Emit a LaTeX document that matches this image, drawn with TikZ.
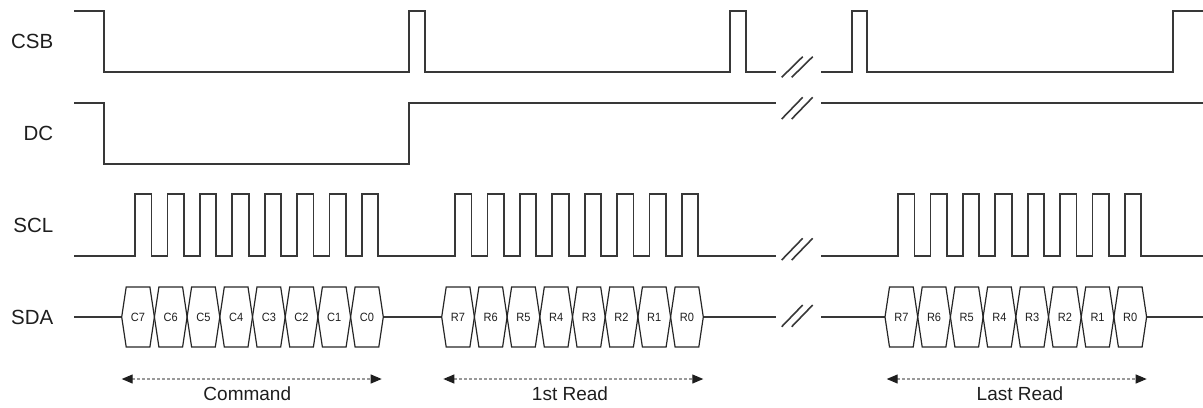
\documentclass[tikz,border=0pt]{standalone}
\usepackage{fontspec}
\setmainfont{Liberation Sans}
\usetikzlibrary{arrows.meta}
\definecolor{wavecol}{HTML}{383838}
\definecolor{textcol}{HTML}{1E1E1E}
\definecolor{dashcol}{HTML}{999999}
\begin{document}
\begin{tikzpicture}[x=1bp,y=-1bp,
  wave/.style={draw=wavecol, line width=1.8bp, line join=miter},
  cellbox/.style={draw=black!85, line width=1.2bp, line join=miter},
  brk/.style={draw=wavecol, line width=1.6bp},
  sig/.style={font=\fontsize{20.5bp}{24bp}\selectfont, text=textcol, inner sep=0pt, anchor=base east},
  spanlbl/.style={font=\fontsize{19bp}{22bp}\selectfont, text=textcol, inner sep=0pt, anchor=base},
  bitlbl/.style={font=\fontsize{12bp}{14bp}\selectfont, text=textcol, inner sep=0pt, xscale=0.92},
  spanarrow/.style={draw=dashcol, line width=1.1bp, dash pattern=on 3bp off 2bp,
    {Triangle[length=11bp,width=9bp,color=textcol]}-{Triangle[length=11bp,width=9bp,color=textcol]}}
]
\useasboundingbox (0,0) rectangle (1203,407);

% signal names
\node[sig] (csb) at (53.5,48.3) {CSB};
\node[sig] (dc)  at (53.5,140) {DC};
\node[sig] (scl) at (53.5,232.3) {SCL};
\node[sig] (sda) at (53.5,324) {SDA};

% CSB
\draw[wave] (74,11) -- (104,11) -- (104,72) -- (409,72) -- (409,11) -- (425,11) -- (425,72)
  -- (730,72) -- (730,11) -- (746,11) -- (746,72) -- (776,72);
\draw[wave] (821,72) -- (852,72) -- (852,11) -- (867,11) -- (867,72) -- (1173,72) -- (1173,11) -- (1203,11);

% DC
\draw[wave] (74,103) -- (104,103) -- (104,164) -- (409,164) -- (409,103) -- (776,103);
\draw[wave] (821,103) -- (1203,103);

% SCL
\draw[wave] (74,256)
  \foreach \k in {0,...,7}{ -- ({135+\k*32.4},256) -- ({135+\k*32.4},194) -- ({151.5+\k*32.4},194) -- ({151.5+\k*32.4},256)}
  \foreach \k in {0,...,7}{ -- ({455+\k*32.4},256) -- ({455+\k*32.4},194) -- ({471.5+\k*32.4},194) -- ({471.5+\k*32.4},256)}
  -- (776,256);
\draw[wave] (821,256)
  \foreach \k in {0,...,7}{ -- ({898+\k*32.4},256) -- ({898+\k*32.4},194) -- ({914.5+\k*32.4},194) -- ({914.5+\k*32.4},256)}
  -- (1203,256);

% SDA idle lines
\draw[wave] (74,317) -- (121.7,317);
\draw[wave] (383.3,317) -- (441.7,317);
\draw[wave] (703.3,317) -- (776,317);
\draw[wave] (821,317) -- (885,317);
\draw[wave] (1146.6,317) -- (1203,317);

% SDA cells
\foreach \gx/\pre/\id in {121.7/C/ca, 441.7/R/rb, 885/R/rc}{
  \foreach \i in {0,...,7}{
    \pgfmathsetmacro\L{\gx+\i*32.7}
    \pgfmathsetmacro\R{\L+32.7}
    \pgfmathtruncatemacro\bit{7-\i}
    \draw[cellbox] (\L,317) -- (\L+4.5,287) -- (\R-4.5,287) -- (\R,317) -- (\R-4.5,347) -- (\L+4.5,347) -- cycle;
    \node[bitlbl] (\id\bit) at ({\L+16.35},317) {\pre\bit};
  }
}

% break marks
\foreach \yb/\yt in {77.3/56.7, 119/97.3, 260/238.3, 326.7/305}{
  \draw[brk] (781.7,\yb) -- (802.7,\yt);
  \draw[brk] (791.7,\yb) -- (812.7,\yt);
}

% spans
\coordinate (cmdL) at (121.7,379);
\coordinate (cmdR) at (381.7,379);
\coordinate (r1L) at (443.3,379);
\coordinate (r1R) at (703.3,379);
\coordinate (rlL) at (886.7,379);
\coordinate (rlR) at (1146.7,379);
\draw[spanarrow] (cmdL) -- (cmdR);
\draw[spanarrow] (r1L) -- (r1R);
\draw[spanarrow] (rlL) -- (rlR);
\node[spanlbl] (cmd) at (247.3,400) {Command};
\node[spanlbl] (rd1) at (570,400) {1st Read};
\node[spanlbl] (rdl) at (1020,400) {Last Read};
\end{tikzpicture}
\end{document}
